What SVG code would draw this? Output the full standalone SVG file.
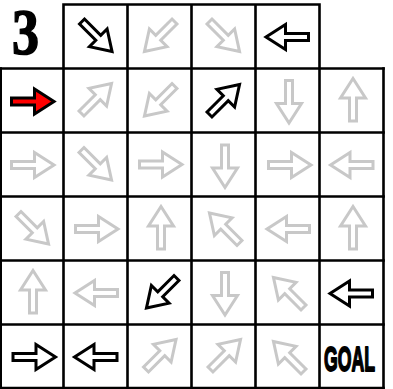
<svg xmlns="http://www.w3.org/2000/svg" xmlns:xlink="http://www.w3.org/1999/xlink" width="393" height="389" viewBox="0 0 393 389">
<style>
.grid{stroke:#000;stroke-width:2.6;fill:none;stroke-linecap:square}
.g{fill:#fff;stroke:#c8c8c8;stroke-width:3;stroke-linejoin:miter}
.k{fill:#fff;stroke:#000;stroke-width:3;stroke-linejoin:miter}
.r{fill:#ff0000;stroke:#000;stroke-width:3;stroke-linejoin:miter}
.num{font-family:"Liberation Serif",serif;font-weight:bold;font-size:66px;fill:#000;stroke:#000;stroke-width:1.6}
.goal{font-family:"Liberation Sans",Arial,sans-serif;font-weight:bold;font-size:35px;fill:#000;stroke:#000;stroke-width:1.8;stroke-linejoin:round}
</style>
<defs>
<path id="arr" d="M -20.5,-3.5 H 2.5 V -12.5 L 22,0 L 2.5,12.5 V 3.5 H -20.5 Z"/>
</defs>
<rect width="393" height="389" fill="#fff"/>
<g id="grid" class="grid">
<path d="M63.5,4.5 H319.5 M63.5,4.5 V388 M127.5,4.5 V388 M191.5,4.5 V388 M255.5,4.5 V388 M319.5,4.5 V388"/>
<path d="M0.7,68.5 H383.5 M0.7,132.5 H383.5 M0.7,196.5 H383.5 M0.7,260.5 H383.5 M0.7,324.5 H383.5 M0.7,388 H383.5"/>
<path d="M0.7,68.5 V388 M383.5,68.5 V388"/>
</g>
<g id="level"><text class="num" x="12" y="54" textLength="27" lengthAdjust="spacingAndGlyphs">3</text></g>
<g id="goal"><text class="goal" x="324" y="370.5" textLength="51" lengthAdjust="spacingAndGlyphs">GOAL</text></g>
<g id="r0c1"><use xlink:href="#arr" class="k" transform="translate(96.5,36) rotate(45)"/></g>
<g id="r0c2"><use xlink:href="#arr" class="g" transform="translate(160,36) rotate(135)"/></g>
<g id="r0c3"><use xlink:href="#arr" class="g" transform="translate(224,36) rotate(45)"/></g>
<g id="r0c4"><use xlink:href="#arr" class="k" transform="translate(288,37) rotate(180)"/></g>
<g id="r1c0"><use xlink:href="#arr" class="r" transform="translate(32,101.5)"/></g>
<g id="r1c1"><use xlink:href="#arr" class="g" transform="translate(96,99) rotate(-45)"/></g>
<g id="r1c2"><use xlink:href="#arr" class="g" transform="translate(160,100.5) rotate(135)"/></g>
<g id="r1c3"><use xlink:href="#arr" class="k" transform="translate(224,100) rotate(-45)"/></g>
<g id="r1c4"><use xlink:href="#arr" class="g" transform="translate(289,101) rotate(90)"/></g>
<g id="r1c5"><use xlink:href="#arr" class="g" transform="translate(353,100.5) rotate(-90)"/></g>
<g id="r2c0"><use xlink:href="#arr" class="g" transform="translate(32,165)"/></g>
<g id="r2c1"><use xlink:href="#arr" class="g" transform="translate(96,164.5) rotate(45)"/></g>
<g id="r2c2"><use xlink:href="#arr" class="g" transform="translate(160,164.5)"/></g>
<g id="r2c3"><use xlink:href="#arr" class="g" transform="translate(225,165.5) rotate(90)"/></g>
<g id="r2c4"><use xlink:href="#arr" class="g" transform="translate(289,165)"/></g>
<g id="r2c5"><use xlink:href="#arr" class="g" transform="translate(352.5,165) rotate(180)"/></g>
<g id="r3c0"><use xlink:href="#arr" class="g" transform="translate(33,228.5) rotate(45)"/></g>
<g id="r3c1"><use xlink:href="#arr" class="g" transform="translate(96,229)"/></g>
<g id="r3c2"><use xlink:href="#arr" class="g" transform="translate(161,228.5) rotate(-90)"/></g>
<g id="r3c3"><use xlink:href="#arr" class="g" transform="translate(225,228.5) rotate(-135)"/></g>
<g id="r3c4"><use xlink:href="#arr" class="g" transform="translate(289,229) rotate(180)"/></g>
<g id="r3c5"><use xlink:href="#arr" class="g" transform="translate(353,228.5) rotate(-90)"/></g>
<g id="r4c0"><use xlink:href="#arr" class="g" transform="translate(33,292.5) rotate(-90)"/></g>
<g id="r4c1"><use xlink:href="#arr" class="g" transform="translate(97,293) rotate(180)"/></g>
<g id="r4c2"><use xlink:href="#arr" class="k" transform="translate(162,292.5) rotate(135)"/></g>
<g id="r4c3"><use xlink:href="#arr" class="g" transform="translate(225,293) rotate(90)"/></g>
<g id="r4c4"><use xlink:href="#arr" class="g" transform="translate(289,293) rotate(-135)"/></g>
<g id="r4c5"><use xlink:href="#arr" class="k" transform="translate(352,293.5) rotate(180)"/></g>
<g id="r5c0"><use xlink:href="#arr" class="k" transform="translate(33.5,357)"/></g>
<g id="r5c1"><use xlink:href="#arr" class="k" transform="translate(96.5,357) rotate(180)"/></g>
<g id="r5c2"><use xlink:href="#arr" class="g" transform="translate(160.5,355) rotate(-45)"/></g>
<g id="r5c3"><use xlink:href="#arr" class="g" transform="translate(225,355) rotate(-45)"/></g>
<g id="r5c4"><use xlink:href="#arr" class="g" transform="translate(289,357) rotate(-135)"/></g>
</svg>
